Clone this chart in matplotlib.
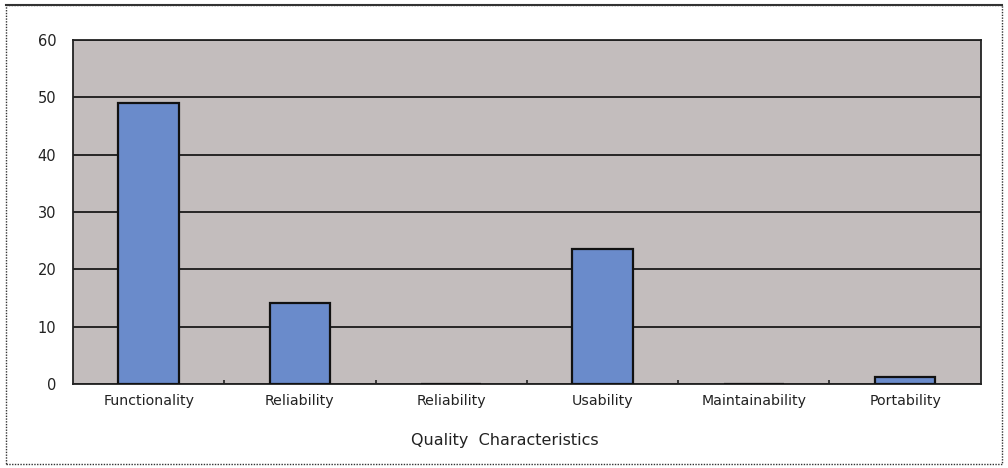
import matplotlib
matplotlib.use("Agg")
import matplotlib.pyplot as plt
from matplotlib.patches import Rectangle
import numpy as np

categories = ["Functionality", "Reliability", "Reliability", "Usability", "Maintainability", "Portability"]
values = [49, 14.2, 0, 23.5, 0, 1.2]
yticks = [0, 10, 20, 30, 40, 50, 60]

fig = plt.figure(figsize=(10.08, 4.68), dpi=100)
fig.patch.set_facecolor("white")
ax = fig.add_axes([0.0724, 0.1795, 0.9006, 0.735])
ax.set_facecolor("#c3bdbd")

x = np.arange(len(categories))
ax.bar(x, values, width=0.4, color="#6a8bcb", edgecolor="#111111", linewidth=1.6, zorder=3)

ax.set_xlim(-0.5, len(categories) - 0.5)
ax.set_ylim(0, 60)
ax.set_yticks(yticks)
ax.set_yticklabels([str(v) for v in yticks], fontsize=10.5, color="#222222")
ax.yaxis.grid(True, color="#1a1a1a", linewidth=1.3, zorder=1)
ax.set_axisbelow(True)
ax.tick_params(axis="y", length=0, pad=12)

ax.set_xticks(x)
ax.set_xticklabels(categories, fontsize=10.2, color="#222222")
ax.tick_params(axis="x", which="major", length=0, pad=7)
ax.set_xticks(np.arange(0.5, len(categories) - 0.5, 1), minor=True)
ax.tick_params(axis="x", which="minor", direction="in", length=3, width=1.2, color="#222222")

for s in ax.spines.values():
    s.set_color("#222222")
    s.set_linewidth(1.3)

ax.set_xlabel("Quality  Characteristics", fontsize=11.5, color="#222222")
ax.xaxis.set_label_coords(0.4756, -0.142)

fig.patches.append(Rectangle((0.006, 0.008), 0.988, 0.982, transform=fig.transFigure,
                             fill=False, edgecolor="#333333", linewidth=1.0,
                             linestyle=(0, (1, 1))))
fig.add_artist(plt.Line2D([0.006, 0.994], [0.99, 0.99], transform=fig.transFigure,
                          color="#333333", linewidth=1.5))

fig.savefig("out.png", dpi=100)
